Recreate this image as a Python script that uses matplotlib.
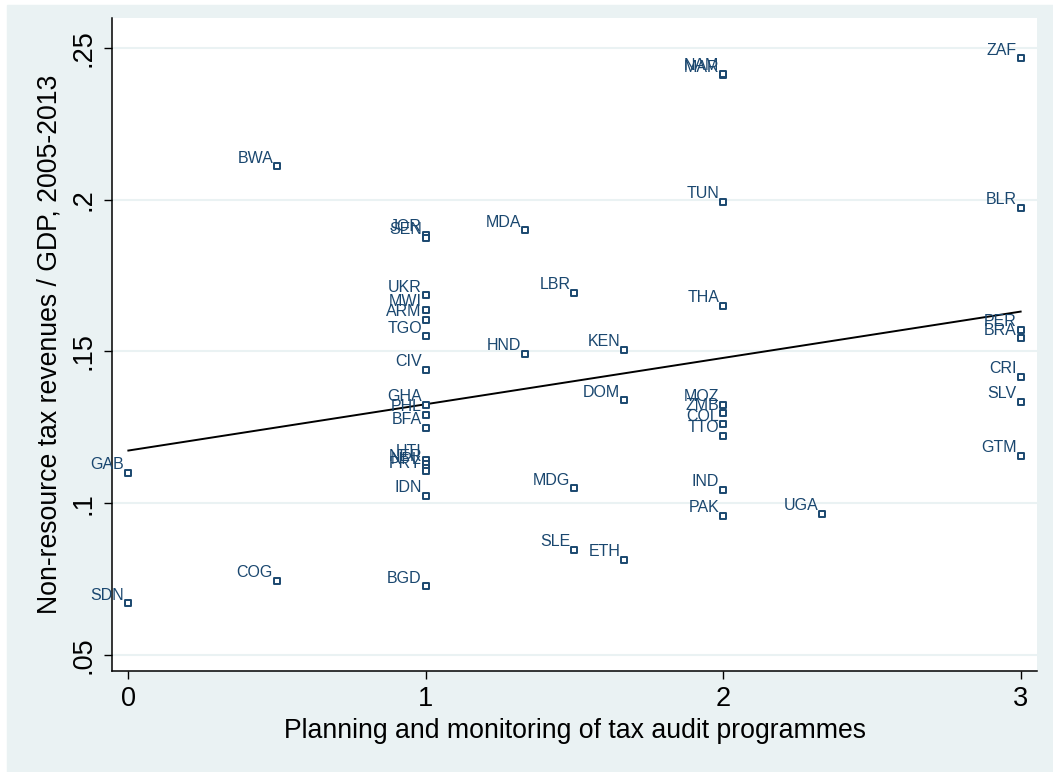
import numpy as np
import matplotlib.pyplot as plt

plt.rcParams['font.family'] = ['Liberation Sans', 'DejaVu Sans']

# country codes, audit-planning score and non-resource tax / GDP
countries = ['ZAF', 'MAR', 'NAM', 'BWA', 'TUN', 'BLR', 'MDA', 'JOR', 'SEN',
             'UKR', 'MWI', 'ARM', 'TGO', 'LBR', 'THA', 'HND', 'KEN', 'PER',
             'BRA', 'CIV', 'CRI', 'DOM', 'SLV', 'GHA', 'PHL', 'BFA', 'MOZ',
             'ZMB', 'COL', 'TTO', 'GTM', 'HTI', 'NER', 'NPL', 'PRY', 'GAB',
             'IDN', 'MDG', 'IND', 'PAK', 'UGA', 'SLE', 'ETH', 'COG', 'BGD',
             'SDN']
score = [3, 2, 2, 0.5, 2, 3, 1.333, 1, 1,
         1, 1, 1, 1, 1.5, 2, 1.333, 1.667, 3,
         3, 1, 3, 1.667, 3, 1, 1, 1, 2,
         2, 2, 2, 3, 1, 1, 1, 1, 0,
         1, 1.5, 2, 2, 2.333, 1.5, 1.667, 0.5, 1,
         0]
tax_gdp = [0.2467, 0.2411, 0.2415, 0.2111, 0.1993, 0.1973, 0.1900, 0.1884, 0.1874,
           0.1686, 0.1637, 0.1604, 0.1551, 0.1693, 0.1650, 0.1492, 0.1505, 0.1571,
           0.1544, 0.1439, 0.1416, 0.1340, 0.1334, 0.1324, 0.1291, 0.1248, 0.1324,
           0.1297, 0.1261, 0.1222, 0.1156, 0.1143, 0.1129, 0.1116, 0.1106, 0.1100,
           0.1024, 0.1050, 0.1044, 0.0958, 0.0965, 0.0846, 0.0813, 0.0744, 0.0727,
           0.0671]

bg = '#eaf2f3'
navy = '#1a476f'

fig = plt.figure(figsize=(10.53, 7.72), dpi=100, facecolor='white')
fig.patches.append(plt.Rectangle((7 / 1053, -0.01), 1.1, 1.01 - 5 / 772,
                                 transform=fig.transFigure, color=bg, zorder=-10))
ax = fig.add_axes([112 / 1053, 101 / 772, 925 / 1053, 653 / 772])
ax.set_facecolor('white')

x = np.array(score)
y = np.array(tax_gdp)

# linear fit
b, a = np.polyfit(x, y, 1)
xs = np.array([0, 3])
ax.plot(xs, a + b * xs, color='black', lw=1.4, zorder=2)

ax.scatter(x, y, marker='s', s=13, facecolors='white', edgecolors=navy,
           linewidths=1.4, zorder=3)
for c, xi, yi in zip(countries, x, y):
    ax.annotate(c, (xi, yi), xytext=(-4, 8), textcoords='offset pixels',
                ha='right', va='center', fontsize=11.5, color=navy, zorder=4)

ax.set_xlim(-0.055, 3.055)
ax.set_ylim(0.0447, 0.2599)
ax.set_xticks([0, 1, 2, 3])
ax.set_yticks([0.05, 0.1, 0.15, 0.2, 0.25])
ax.set_yticklabels(['.05', '.1', '.15', '.2', '.25'], rotation=90, va='center')
ax.tick_params(labelsize=19.5, length=6, width=1, colors='black', pad=5)
ax.grid(axis='y', color=bg, lw=1.5, zorder=0)
ax.set_axisbelow(True)
for s in ['top', 'right']:
    ax.spines[s].set_visible(False)
for s in ['left', 'bottom']:
    ax.spines[s].set_linewidth(1.1)

ax.set_xlabel('Planning and monitoring of tax audit programmes', fontsize=19.2, labelpad=4)
ax.set_ylabel('Non-resource tax revenues / GDP, 2005-2013', fontsize=19.2, labelpad=6)

plt.savefig('out.png', dpi=100, facecolor=fig.get_facecolor())
